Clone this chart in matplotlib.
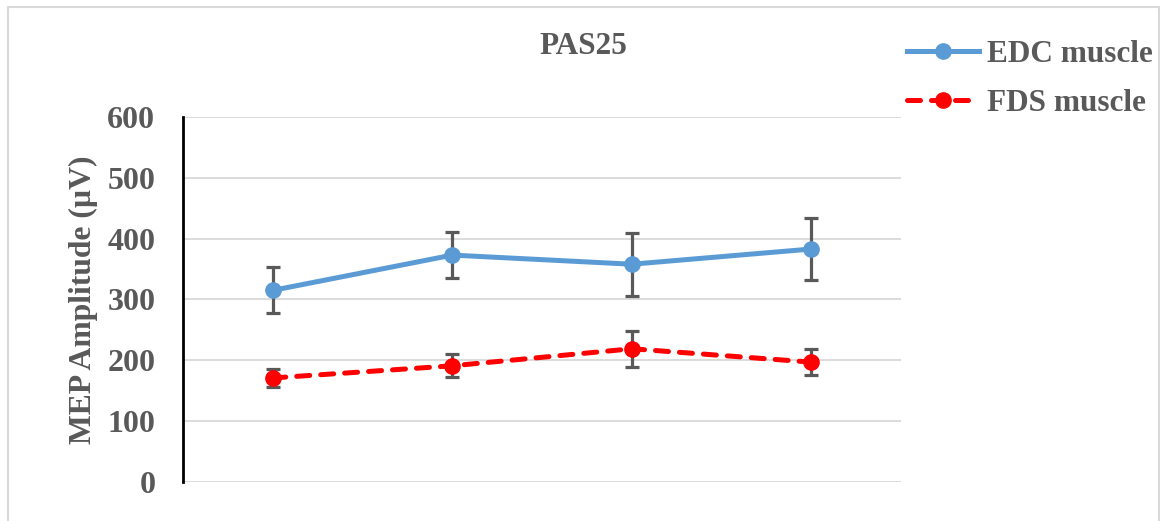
import matplotlib.pyplot as plt
from matplotlib.patches import Rectangle

categories = ["1", "2", "3", "4"]
edc_mean = [315, 373, 358, 383]
edc_err = [38, 38, 52, 51]
fds_mean = [171, 191, 219, 197]
fds_err = [15, 19, 30, 21]
y_ticks = [0, 100, 200, 300, 400, 500, 600]

GRAY = "#595959"
plt.rcParams["font.family"] = ["Liberation Serif", "DejaVu Serif"]
plt.rcParams["font.weight"] = "bold"

fig = plt.figure(figsize=(11.6, 5.21), dpi=100)
ax = fig.add_axes([0.1578, 0.0749, 0.619, 0.7005])

x = list(range(len(categories)))

ax.errorbar(x, edc_mean, yerr=edc_err, fmt="none", ecolor=GRAY,
            elinewidth=2.3, capsize=5, capthick=2.3, zorder=2)
ax.errorbar(x, fds_mean, yerr=fds_err, fmt="none", ecolor=GRAY,
            elinewidth=2.3, capsize=5, capthick=2.3, zorder=2)
ax.plot(x, edc_mean, "-o", color="#5B9BD5", linewidth=3.6, markersize=11,
        label="EDC muscle", zorder=3)
ax.plot(x, fds_mean, "--o", color="#FF0000", linewidth=3.6, markersize=11,
        dashes=(2.6, 2.2), dash_capstyle="round", label="FDS muscle", zorder=3)

ax.set_xlim(-0.5, 3.5)
ax.set_ylim(0, 600)
ax.set_yticks(y_ticks)
ax.set_xticks([])
ax.yaxis.grid(True, color="#d9d9d9", linewidth=1.3)
ax.set_axisbelow(True)
for s in ["top", "right", "bottom"]:
    ax.spines[s].set_visible(False)
ax.spines["left"].set_linewidth(2)
ax.spines["left"].set_color("black")
ax.tick_params(axis="y", length=0, pad=20, labelsize=23, labelcolor=GRAY)
for lbl in ax.get_yticklabels():
    lbl.set_fontweight("bold")

ax.set_ylabel("MEP Amplitude (µV)", fontsize=22.8, color=GRAY,
              fontweight="bold", labelpad=7)

fig.text(0.503, 0.91, "PAS25", ha="center", va="center", fontsize=22.5,
         color=GRAY, fontweight="bold")

leg = fig.legend(loc="upper left", bbox_to_anchor=(0.758, 0.978),
                 frameon=False, fontsize=22.5, handlelength=2.3,
                 labelspacing=0.65, handletextpad=0.25)
for t in leg.get_texts():
    t.set_color(GRAY)
    t.set_fontweight("bold")

fig.patches.append(Rectangle((8 / 1160, -0.05), 1151 / 1160, 1 - 7 / 521 + 0.05,
                             transform=fig.transFigure, fill=False,
                             edgecolor="#d9d9d9", linewidth=1.5))

fig.savefig("out.png", dpi=100)
